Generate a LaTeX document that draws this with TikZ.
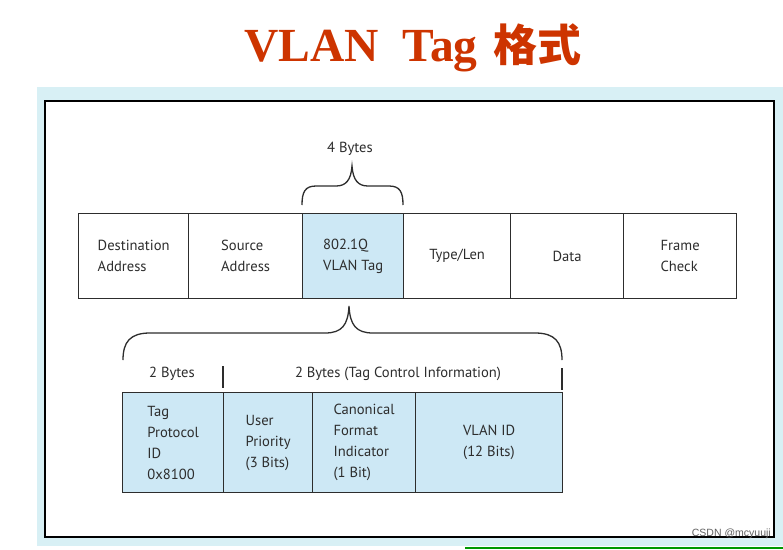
\documentclass[tikz,border=0pt]{standalone}
\usepackage{fontspec}
\newfontfamily\lab{PT Sans}
\newfontfamily\ttl{Liberation Serif}
\newfontfamily\cjk{Noto Sans CJK SC}
\usetikzlibrary{calc}
\definecolor{titlered}{RGB}{205,52,0}
\definecolor{bgblue}{RGB}{216,240,245}
\definecolor{cellblue}{RGB}{205,232,245}
\definecolor{ink}{RGB}{45,45,45}
\tikzset{
  cell/.style={draw=ink, line width=1.3pt, anchor=north west, inner sep=0pt, align=left,
    text=ink, font=\lab\fontsize{14.6}{21}\selectfont},
  bluecell/.style={cell, fill=cellblue},
  bracepath/.style={draw=ink, line width=1.3pt},
  lbl/.style={text=ink, font=\lab\fontsize{14.6}{21}\selectfont, inner sep=0pt}
}
\begin{document}
\begin{tikzpicture}[x=1pt,y=-1pt]
\useasboundingbox (0,0) rectangle (783,549);
% title
\node[text=titlered, inner sep=0pt, anchor=base] (title) at (413,61)
  {\ttl\bfseries\fontsize{47.5}{50}\selectfont VLAN\ \ Tag\,\,{\cjk\bfseries\fontsize{44}{48}\selectfont 格式}};
% background and frame
\fill[bgblue] (37,87) rectangle (783,546);
\draw[green!60!black, line width=1.5pt] (465,548) -- (783,548);
\draw[fill=white, line width=2.6pt, draw=black] (45,101) rectangle (774,537);
% main frame row
\node[cell, minimum width=110pt, minimum height=85pt] (dst) at (78,213) {Destination\\Address};
\node[cell, minimum width=114pt, minimum height=85pt] (src) at (188,213) {Source\\Address};
\node[bluecell, minimum width=101pt, minimum height=85pt] (tag) at (302,213) {802.1Q\\VLAN Tag};
\node[cell, minimum width=107pt, minimum height=85pt] (typ) at (403,213) {Type/Len};
\node[cell, minimum width=113pt, minimum height=85pt] (dat) at (510,213) {Data};
\node[cell, minimum width=113pt, minimum height=85pt] (fcs) at (623,213) {Frame\\Check};
% upper brace
\node[lbl] (four) at (350,149) {4 Bytes};
\draw[bracepath] (302,205) .. controls (302,192) and (305,186) .. (316,186) -- (336,186)
  .. controls (346,186) and (351,180) .. (352,166)
  .. controls (353,180) and (358,186) .. (368,186) -- (389,186)
  .. controls (400,186) and (403,192) .. (403,205);
% lower brace
\draw[bracepath] (123,360) .. controls (123,342) and (130,333) .. (150,333) -- (325,333)
  .. controls (342,333) and (348,325) .. (349,306)
  .. controls (350,325) and (356,333) .. (373,333) -- (535,333)
  .. controls (555,333) and (562,342) .. (562,360);
% labels row
\node[lbl] (twob) at (172,374) {2 Bytes};
\node[lbl] (tci) at (398,374) {2 Bytes (Tag Control Information)};
\draw[bracepath] (223,366) -- (223,388);
\draw[bracepath] (562,368) -- (562,390);
% tag detail row
\node[bluecell, minimum width=101pt, minimum height=100pt] (tpid) at (122,392) {Tag\\Protocol\\ID\\0x8100};
\node[bluecell, minimum width=89pt, minimum height=100pt] (pri) at (223,392) {User\\Priority\\(3 Bits)};
\node[bluecell, minimum width=103pt, minimum height=100pt] (cfi) at (312,392) {Canonical\\Format\\Indicator\\(1 Bit)};
\node[bluecell, minimum width=147pt, minimum height=100pt] (vid) at (415,392) {VLAN ID\\(12 Bits)};
% watermark
\node[text=gray!75!black, anchor=base east, inner sep=0pt, font=\fontspec{Liberation Sans}\fontsize{10.5}{12}\selectfont] (wm) at (771,536) {CSDN @mcyuuji};
\end{tikzpicture}
\end{document}
